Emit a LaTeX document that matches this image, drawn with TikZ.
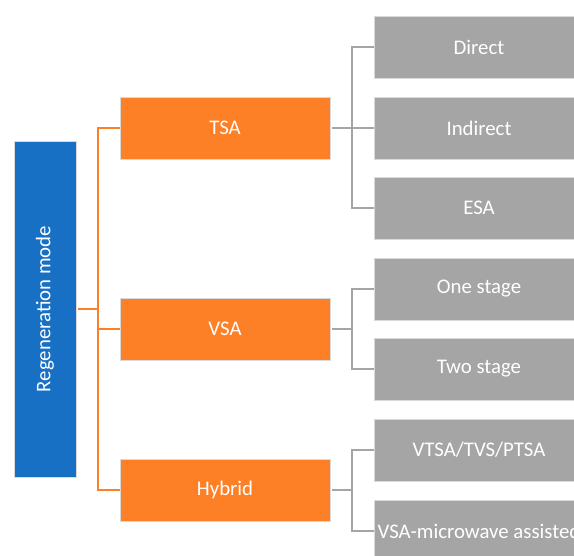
\documentclass[tikz,border=0pt]{standalone}
\usepackage{fontspec}
\setmainfont{Carlito}
\begin{document}
\begin{tikzpicture}[x=1pt,y=-1pt,
  box/.style={minimum width=210pt,minimum height=62pt,inner sep=0pt,text=white,font=\fontsize{20.8}{24}\selectfont,draw=white!85!black,line width=0.6pt},
  root/.style={box,fill=rootblue,minimum width=336pt,rotate=90},
  mid/.style={box,fill=midorange},
  leaf/.style={box,fill=leafgray},
  oline/.style={draw=midorange,line width=1.8pt},
  gline/.style={draw=leafgray,line width=1.8pt}]
\definecolor{rootblue}{HTML}{1870C4}
\definecolor{midorange}{HTML}{FD7F26}
\definecolor{leafgray}{HTML}{A5A5A5}
\useasboundingbox (0,0) rectangle (574,556);
\clip (0,0) rectangle (574,556);
\node[root] (rm) at (45,309) {Regeneration mode};
\node[mid] (tsa) at (225,128) {TSA};
\node[mid] (vsa) at (225,329) {VSA};
\node[mid] (hyb) at (225,490) {Hybrid};
\node[leaf] (d) at (479,47) {Direct};
\node[leaf] (i) at (479,128) {Indirect};
\node[leaf] (e) at (479,208) {ESA};
\node[leaf] (o) at (479,289) {One stage};
\node[leaf] (t) at (479,369) {Two stage};
\node[leaf] (v) at (479,450) {VTSA/TVS/PTSA};
\node[leaf] (m) at (479,531) {VSA-microwave assisted};
% orange connectors
\coordinate (ob) at (98,309);
\draw[oline] ([xshift=2pt]rm.south) -- (ob);
\draw[oline] (tsa.west) -- (98,128) -- (98,490) -- (hyb.west);
\draw[oline] (vsa.west) -- (98,329);
% gray connectors
\draw[gline] ([xshift=2pt]tsa.east) -- (352,128);
\draw[gline] (d.west) -- (352,47) -- (352,208) -- (e.west);
\draw[gline] (i.west) -- (352,128);
\draw[gline] ([xshift=2pt]vsa.east) -- (352,329);
\draw[gline] (o.west) -- (352,289) -- (352,369) -- (t.west);
\draw[gline] ([xshift=2pt]hyb.east) -- (352,490);
\draw[gline] (v.west) -- (352,450) -- (352,531) -- (m.west);
\end{tikzpicture}
\end{document}
